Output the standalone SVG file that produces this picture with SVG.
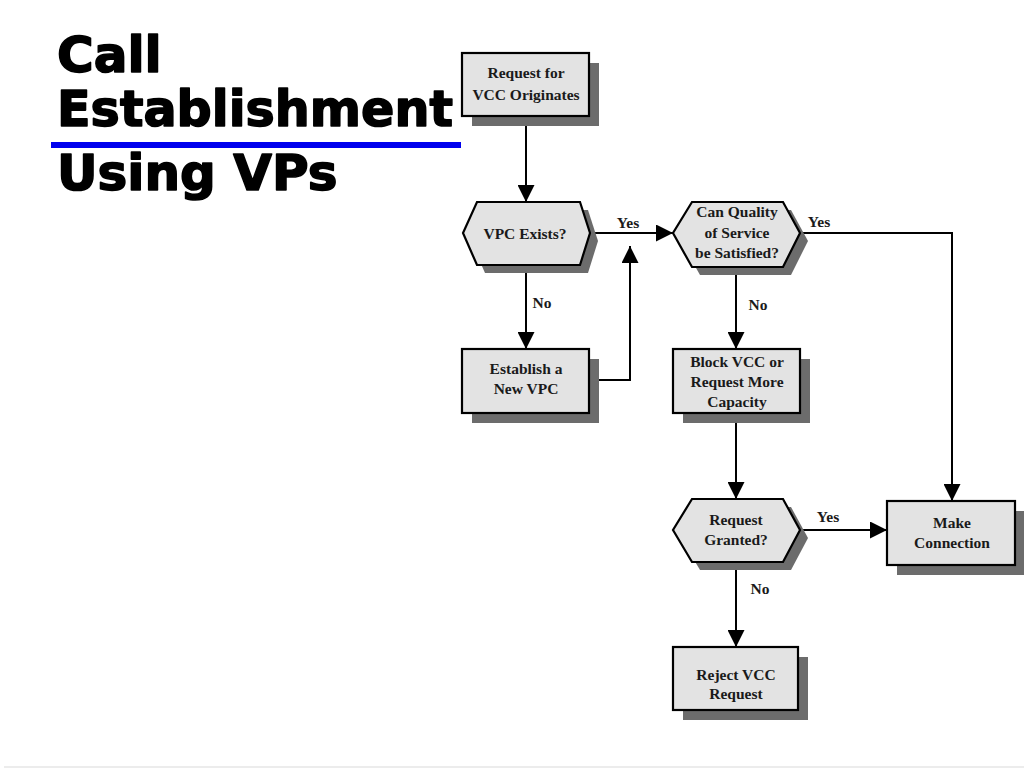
<svg xmlns="http://www.w3.org/2000/svg" width="1024" height="768" viewBox="0 0 1024 768">
<defs>
<style>
.title{font-family:"DejaVu Sans",sans-serif;font-weight:bold;font-size:50px;fill:#000;stroke:#000;stroke-width:1.6;stroke-linejoin:round}
.box{fill:#e3e3e3;stroke:#000;stroke-width:2.2}
.shadow{fill:#6c6c6c}
.t{font-family:"Liberation Serif",serif;font-weight:bold;font-size:15.5px;fill:#1a1a1a;text-anchor:middle}
.c{fill:none;stroke:#000;stroke-width:2}
</style>
<marker id="ah" markerUnits="userSpaceOnUse" markerWidth="17" markerHeight="17" viewBox="0 0 17 17" refX="17" refY="8.5" orient="auto">
<path d="M0,0 L17,8.5 L0,17 Z" fill="#000"/>
</marker>
</defs>
<rect width="1024" height="768" fill="#fff"/>
<line x1="4" y1="767" x2="1024" y2="767" stroke="#e6e6e6" stroke-width="1.5"/>

<g id="title">
<text class="title" x="57" y="72">Call</text>
<text class="title" x="57" y="126" textLength="396" lengthAdjust="spacingAndGlyphs">Establishment</text>
<rect x="51" y="142" width="410" height="6" fill="#0000ee"/>
<text class="title" x="57" y="190">Using VPs</text>
</g>

<g id="connectors">
<line class="c" x1="526" y1="116" x2="526" y2="202" marker-end="url(#ah)"/>
<line class="c" x1="590" y1="233" x2="673" y2="233" marker-end="url(#ah)"/>
<polyline class="c" points="589,380 630,380 630,246" marker-end="url(#ah)"/>
<line class="c" x1="526" y1="265" x2="526" y2="349" marker-end="url(#ah)"/>
<polyline class="c" points="800,233 952,233 952,501" marker-end="url(#ah)"/>
<line class="c" x1="736" y1="266" x2="736" y2="349" marker-end="url(#ah)"/>
<line class="c" x1="736" y1="413" x2="736" y2="499" marker-end="url(#ah)"/>
<line class="c" x1="800" y1="530" x2="887" y2="530" marker-end="url(#ah)"/>
<line class="c" x1="736" y1="562" x2="736" y2="647" marker-end="url(#ah)"/>
<text class="t" x="628" y="228">Yes</text>
<text class="t" x="819" y="227">Yes</text>
<text class="t" x="542" y="308">No</text>
<text class="t" x="758" y="310">No</text>
<text class="t" x="828" y="522">Yes</text>
<text class="t" x="760" y="594">No</text>
</g>

<g id="n-request">
<rect class="shadow" x="472" y="63" width="127" height="63"/>
<rect class="box" x="462" y="53" width="127" height="63"/>
<text class="t" x="526" y="78">Request for</text>
<text class="t" x="526" y="100">VCC Originates</text>
</g>

<g id="n-vpc-exists">
<polygon class="shadow" points="485,210 588,210 598,241 588,273 485,273 471,241"/>
<polygon class="box" points="477,202 580,202 590,233 580,265 477,265 463,233"/>
<text class="t" x="525" y="239">VPC Exists?</text>
</g>

<g id="n-qos">
<polygon class="shadow" points="700,210 791,210 808,241 791,275 700,275 681,241"/>
<polygon class="box" points="692,202 783,202 800,233 783,267 692,267 673,233"/>
<text class="t" x="737" y="217">Can Quality</text>
<text class="t" x="737" y="238">of Service</text>
<text class="t" x="737" y="258">be Satisfied?</text>
</g>

<g id="n-establish">
<rect class="shadow" x="472" y="359" width="127" height="64"/>
<rect class="box" x="462" y="349" width="127" height="64"/>
<text class="t" x="526" y="374">Establish a</text>
<text class="t" x="526" y="394">New VPC</text>
</g>

<g id="n-block">
<rect class="shadow" x="683" y="359" width="127" height="64"/>
<rect class="box" x="673" y="349" width="127" height="64"/>
<text class="t" x="737" y="367">Block VCC or</text>
<text class="t" x="737" y="387">Request More</text>
<text class="t" x="737" y="407">Capacity</text>
</g>

<g id="n-granted">
<polygon class="shadow" points="700,507 791,507 808,538 791,570 700,570 681,538"/>
<polygon class="box" points="692,499 783,499 800,530 783,562 692,562 673,530"/>
<text class="t" x="736" y="525">Request</text>
<text class="t" x="736" y="545">Granted?</text>
</g>

<g id="n-make">
<rect class="shadow" x="897" y="511" width="128" height="64"/>
<rect class="box" x="887" y="501" width="128" height="64"/>
<text class="t" x="952" y="528">Make</text>
<text class="t" x="952" y="548">Connection</text>
</g>

<g id="n-reject">
<rect class="shadow" x="683" y="657" width="125" height="63"/>
<rect class="box" x="673" y="647" width="125" height="63"/>
<text class="t" x="736" y="680">Reject VCC</text>
<text class="t" x="736" y="699">Request</text>
</g>
</svg>
